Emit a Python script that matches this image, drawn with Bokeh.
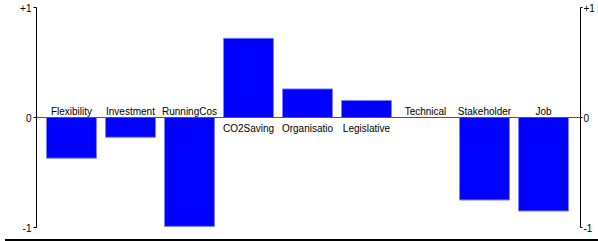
from bokeh.plotting import figure
from bokeh.models import ColumnDataSource, Range1d, LinearAxis, FixedTicker, Span, Div
from bokeh.layouts import column
from bokeh.core.properties import value
from bokeh.embed import file_html
from bokeh.resources import INLINE

categories = ["Flexibility", "Investment", "RunningCos", "CO2Saving", "Organisatio",
              "Legislative", "Technical", "Stakeholder", "Job"]
scores = [-0.37, -0.18, -0.99, 0.72, 0.26, 0.155, 0.0, -0.75, -0.85]
tick_values = [-1, 0, 1]
tick_labels = {-1: "-1", 0: "0", 1: "+1"}

idx = list(range(len(categories)))
src = ColumnDataSource(dict(x=idx, top=scores, bottom=[0] * len(scores)))

above = ColumnDataSource(dict(
    x=[i for i, v in zip(idx, scores) if v <= 0],
    y=[0 for v in scores if v <= 0],
    t=[c for c, v in zip(categories, scores) if v <= 0]))
below = ColumnDataSource(dict(
    x=[i for i, v in zip(idx, scores) if v > 0],
    y=[0 for v in scores if v > 0],
    t=[c for c, v in zip(categories, scores) if v > 0]))

p = figure(width=598, height=234, output_backend="svg", toolbar_location=None,
           x_range=Range1d(-0.593, 8.627), y_range=Range1d(-1, 1),
           x_axis_location=None, y_axis_location="left",
           min_border_left=36, min_border_right=18, min_border_top=7, min_border_bottom=7)
p.outline_line_color = None
p.xgrid.visible = False
p.ygrid.visible = False
p.background_fill_color = "white"
p.border_fill_color = "white"

def style_axis(ax, standoff):
    ax.ticker = FixedTicker(ticks=tick_values)
    ax.major_label_overrides = tick_labels
    ax.major_tick_out = 3
    ax.major_tick_in = 0
    ax.minor_tick_line_color = None
    ax.axis_line_color = "black"
    ax.major_tick_line_color = "black"
    ax.major_label_text_font = "Liberation Sans"
    ax.major_label_text_font_size = "10px"
    ax.major_label_text_color = "black"
    ax.major_label_standoff = standoff

style_axis(p.yaxis[0], 2)
right = LinearAxis()
style_axis(right, 1)
right.major_tick_out = 2
p.add_layout(right, "right")

p.add_layout(Span(location=0, dimension="width", line_color="#555555", line_width=1))

p.vbar(x="x", top="top", bottom="bottom", width=0.847, source=src,
       fill_color="#0000ff", line_color="#8080ff", line_width=1)

p.text(x="x", y="y", text="t", source=above, text_align="center",
       text_baseline="alphabetic", y_offset=-6, text_font=value("Liberation Sans"),
       text_font_size="10px", text_color="black")
p.text(x="x", y="y", text="t", source=below, text_align="center",
       text_baseline="top", y_offset=5, text_font=value("Liberation Sans"),
       text_font_size="10px", text_color="black")

strip = Div(width=598, height=3, styles={"background-color": "black"})
layout = column(p, strip, spacing=0)

open("out.html", "w").write(file_html(layout, INLINE))
